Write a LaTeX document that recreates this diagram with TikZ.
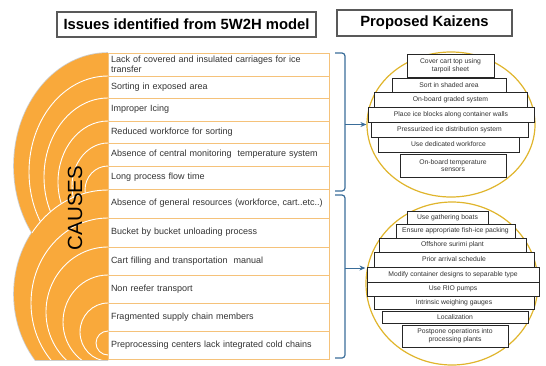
\documentclass[tikz,border=0pt]{standalone}
\usepackage{fontspec}
\setmainfont{Liberation Sans}
\usepackage{xcolor}
\usetikzlibrary{shapes.geometric, arrows.meta}
\definecolor{causeorange}{HTML}{F9A93B}
\definecolor{rowline}{HTML}{F5C27A}
\definecolor{kaizengold}{HTML}{E0B52C}
\definecolor{braceblue}{HTML}{3A6D99}
\definecolor{titlegray}{HTML}{595959}
\definecolor{textgray}{HTML}{333333}
\tikzstyle{heading} = [rectangle, draw = titlegray, line width = 1.2pt, fill = white, inner sep = 0pt, font = \fontsize{14.8}{17}\selectfont\bfseries]
\tikzstyle{cause} = [rectangle, draw = rowline, fill = white, line width = 0.8pt, text width = 215pt, align = left, inner xsep = 3pt, inner ysep = 0pt, text = textgray, font = \fontsize{9}{10.5}\selectfont]
\tikzstyle{kaizenset} = [ellipse, draw = kaizengold, line width = 1.2pt, fill = white, inner sep = 0pt]
\tikzstyle{kaizen} = [rectangle, draw = gray!30!black, fill = white, line width = 0.5pt, inner sep = 0pt, align = center, text = textgray, font = \fontsize{6.8}{7.8}\selectfont]
\tikzstyle{brace} = [draw = braceblue, line width = 1.2pt, rounded corners = 3pt]
\tikzstyle{whitearc} = [draw = white, line width = 0.9pt]

\begin{document}
\begin{tikzpicture}[x = 1pt, y = 1pt]
            \useasboundingbox (0, 0) rectangle (546, -365);
            % left half discs
            \begin{scope}
                \clip (0, -360) rectangle (108, 0);
                \draw [draw = gray!40, line width = 1.6pt] (108, -53) arc [start angle = 90, end angle = 270, x radius = 94, y radius = 113];
                \draw [draw = gray!40, line width = 1.6pt] (108, -190) arc [start angle = 90, end angle = 270, x radius = 94, y radius = 104];
                \fill [causeorange] (108, -53) arc [start angle = 90, end angle = 270, x radius = 94, y radius = 113] -- cycle;
                \draw [whitearc] (108, -76) arc [start angle = 90, end angle = 270, x radius = 79, y radius = 96];
                \draw [whitearc] (108, -98) arc [start angle = 90, end angle = 270, x radius = 64, y radius = 79];
                \draw [whitearc] (108, -121) arc [start angle = 90, end angle = 270, x radius = 50, y radius = 61];
                \draw [whitearc] (108, -143) arc [start angle = 90, end angle = 270, x radius = 36, y radius = 43];
                \draw [whitearc] (108, -166) arc [start angle = 90, end angle = 270, x radius = 23, y radius = 24];
                \fill [causeorange] (108, -190) arc [start angle = 90, end angle = 270, x radius = 94, y radius = 104] -- cycle;
                \draw [whitearc] (108, -218) arc [start angle = 90, end angle = 270, x radius = 77, y radius = 85];
                \draw [whitearc] (108, -247) arc [start angle = 90, end angle = 270, x radius = 62, y radius = 65];
                \draw [whitearc] (108, -275) arc [start angle = 90, end angle = 270, x radius = 45, y radius = 47];
                \draw [whitearc] (108, -303) arc [start angle = 90, end angle = 270, x radius = 28, y radius = 29];
                \draw [whitearc] (108, -331) arc [start angle = 90, end angle = 270, x radius = 12, y radius = 12];
                \begin{scope}
                    \clip (108, -53) arc [start angle = 90, end angle = 270, x radius = 94, y radius = 113] -- cycle;
                    \draw [whitearc] (108, -190) arc [start angle = 90, end angle = 270, x radius = 94, y radius = 104];
                \end{scope}
            \end{scope}
            \draw [draw = gray!40, line width = 0.8pt] (35.4, -360) -- (108, -360);
            \node (causes) at (75, -208) [rotate = 90, font = \fontsize{20.5}{24}\selectfont] {CAUSES};

            % headings
            \node (issues) at (186.5, -24.5) [heading, minimum width = 259pt, minimum height = 25pt] {Issues identified from 5W2H model};
            \node (proposed) at (424.5, -23) [heading, minimum width = 175pt, minimum height = 26pt] {Proposed Kaizens};

            % causes table
            \node (c1) at (218.5, -64.5) [cause, minimum height = 23pt] {Lack of covered and insulated carriages for ice\\transfer};
            \node (c2) at (218.5, -87) [cause, minimum height = 22pt] {Sorting in exposed area};
            \node (c3) at (218.5, -109.5) [cause, minimum height = 23pt] {Improper Icing};
            \node (c4) at (218.5, -132) [cause, minimum height = 22pt] {Reduced workforce for sorting};
            \node (c5) at (218.5, -154.5) [cause, minimum height = 23pt] {Absence of central monitoring\ \ temperature system};
            \node (c6) at (218.5, -177.5) [cause, minimum height = 23pt] {Long process flow time};
            \node (c7) at (218.5, -203.5) [cause, minimum height = 29pt] {Absence of general resources (workforce, cart..etc..)};
            \node (c8) at (218.5, -232.5) [cause, minimum height = 29pt] {Bucket by bucket unloading process};
            \node (c9) at (218.5, -261) [cause, minimum height = 28pt] {Cart filling and transportation\ \ manual};
            \node (c10) at (218.5, -289) [cause, minimum height = 28pt] {Non reefer transport};
            \node (c11) at (218.5, -317) [cause, minimum height = 28pt] {Fragmented supply chain members};
            \node (c12) at (218.5, -345) [cause, minimum height = 28pt] {Preprocessing centers lack integrated cold chains};

            % kaizen groups
            \node (k1) at (451, -124.5) [kaizenset, minimum width = 168pt, minimum height = 145pt] {};
            \node (k2) at (452, -283.5) [kaizenset, minimum width = 172pt, minimum height = 163pt] {};

            \node (a1) at (450.5, -65.5) [kaizen, minimum width = 87pt, minimum height = 23pt] {Cover cart top using\\tarpoil sheet};
            \node (a2) at (449, -85) [kaizen, minimum width = 114pt, minimum height = 14pt] {Sort in shaded area};
            \node (a3) at (450.5, -99.5) [kaizen, minimum width = 153pt, minimum height = 15pt] {On-board graded system};
            \node (a4) at (451, -114.5) [kaizen, minimum width = 166pt, minimum height = 15pt] {Place ice blocks along container walls};
            \node (a5) at (449.5, -129.5) [kaizen, minimum width = 157pt, minimum height = 15pt] {Pressurized ice distribution system};
            \node (a6) at (448.5, -144.5) [kaizen, minimum width = 141pt, minimum height = 15pt] {Use dedicated workforce};
            \node (a7) at (453, -165.5) [kaizen, minimum width = 106pt, minimum height = 23pt] {On-board temperature\\sensors};

            \node (b1) at (447.5, -217.5) [kaizen, minimum width = 81pt, minimum height = 13pt] {Use gathering boats};
            \node (b2) at (455.5, -231) [kaizen, minimum width = 119pt, minimum height = 14pt] {Ensure appropriate fish-ice packing};
            \node (b3) at (452.5, -245) [kaizen, minimum width = 147pt, minimum height = 14pt] {Offshore surimi plant};
            \node (b4) at (454, -259.5) [kaizen, minimum width = 160pt, minimum height = 15pt] {Prior arrival schedule};
            \node (b5) at (453, -274.5) [kaizen, minimum width = 172pt, minimum height = 15pt] {Modify container designs to separable type};
            \node (b6) at (453, -289) [kaizen, minimum width = 172pt, minimum height = 14pt] {Use RIO pumps};
            \node (b7) at (454, -302.5) [kaizen, minimum width = 160pt, minimum height = 13pt] {Intrinsic weighing gauges};
            \node (b8) at (455, -317) [kaizen, minimum width = 146pt, minimum height = 12pt] {Localization};
            \node (b9) at (455, -336) [kaizen, minimum width = 106pt, minimum height = 22pt] {Postpone operations into\\processing plants};

            % braces and arrows
            \draw [brace] (335, -53) -- (345, -53) -- (345, -191) -- (335, -191);
            \draw [brace] (335, -195) -- (345, -195) -- (345, -358) -- (335, -358);
            \coordinate (t1) at (345, -124.5);
            \coordinate (t2) at (345, -268);
            \draw [-{Stealth[length = 6pt, width = 5pt]}, line width = 0.35mm, draw = braceblue] (t1) -- (k1.west);
            \draw [-{Stealth[length = 6pt, width = 5pt]}, line width = 0.35mm, draw = braceblue] (t2) -- (t2 -| k2.west);
        \end{tikzpicture}
\end{document}
